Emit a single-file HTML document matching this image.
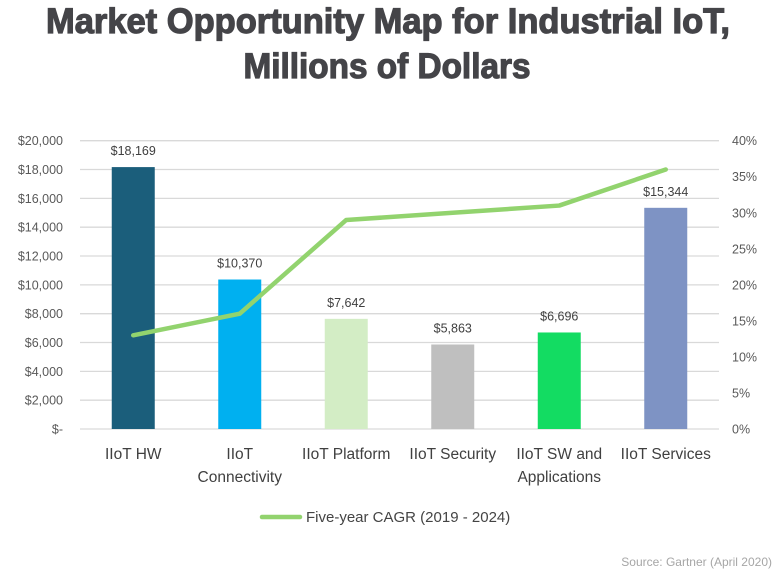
<!DOCTYPE html>
<html><head><meta charset="utf-8"><style>
html,body{margin:0;padding:0;background:#fff;}
svg{display:block;font-family:"Liberation Sans",sans-serif;}
</style></head><body>
<svg id="chart" width="777" height="573" viewBox="0 0 777 573">
<text x="388" y="33" text-anchor="middle" font-size="35" font-weight="900" fill="#444448" stroke="#444448" stroke-width="1.2" textLength="684" lengthAdjust="spacingAndGlyphs">Market Opportunity Map for Industrial IoT,</text>
<text x="387" y="78" text-anchor="middle" font-size="35" font-weight="900" fill="#444448" stroke="#444448" stroke-width="1.2" textLength="287" lengthAdjust="spacingAndGlyphs">Millions of Dollars</text>
<g id="grid"></g><g id="bars"></g><g id="line"></g><g id="labels"></g>
<line x1="262" y1="517" x2="300" y2="517" stroke="#92d36e" stroke-width="4.5" stroke-linecap="round"/>
<text x="306" y="522" font-size="15" fill="#444">Five-year CAGR (2019 - 2024)</text>
<text x="772" y="566" text-anchor="end" font-size="12" fill="#a6a6a6">Source: Gartner (April 2020)</text>
</svg>
<script>
const categories=[["IIoT HW"],["IIoT","Connectivity"],["IIoT Platform"],["IIoT Security"],["IIoT SW and","Applications"],["IIoT Services"]];
const revenue=[18169,10370,7642,5863,6696,15344];
const revenueLabels=["$18,169","$10,370","$7,642","$5,863","$6,696","$15,344"];
const cagr=[13,16,29,30,31,36];
const leftTicks=[0,2000,4000,6000,8000,10000,12000,14000,16000,18000,20000];
const leftTickLabels=["$-","$2,000","$4,000","$6,000","$8,000","$10,000","$12,000","$14,000","$16,000","$18,000","$20,000"];
const rightTicks=[0,5,10,15,20,25,30,35,40];
const colors=["#1b5e7b","#00b0f0","#d3edc5","#bfbfbf","#13dc62","#7e93c4"];
const NS="http://www.w3.org/2000/svg";
const X0=80,X1=719,Y0=429,Y1=140.7;
const band=(X1-X0)/categories.length;
const xc=i=>X0+band*(i+0.5);
const yL=v=>Y0-(v/20000)*(Y0-Y1);
const yR=v=>Y0-(v/40)*(Y0-Y1);
function mk(tag,attrs,parent,text){const e=document.createElementNS(NS,tag);for(const k in attrs)e.setAttribute(k,attrs[k]);if(text!==undefined)e.textContent=text;parent.appendChild(e);return e;}
const grid=document.getElementById('grid'),bars=document.getElementById('bars'),line=document.getElementById('line'),labels=document.getElementById('labels');
leftTicks.forEach((t,i)=>{
  const g=mk('line',{x1:X0,x2:X1,y1:yL(t),y2:yL(t),stroke:'#d9d9d9','stroke-width':1.3},grid);
  
  
  const l=mk('text',{x:63,y:yL(t)+4.5,'text-anchor':'end','font-size':12.5,fill:'#595959'},labels,leftTickLabels[i]);
  
  
});
rightTicks.forEach(t=>{
  const l=mk('text',{x:732,y:yR(t)+4.5,'font-size':12.5,fill:'#595959'},labels,t+'%');
  
  
});
const bw=43;
revenue.forEach((v,i)=>{
  const r=mk('rect',{x:xc(i)-bw/2,y:yL(v),width:bw,height:Y0-yL(v),fill:colors[i]},bars);
  
  
  const t=mk('text',{x:xc(i),y:yL(v)-12,'text-anchor':'middle','font-size':12.5,fill:'#404040'},labels,revenueLabels[i]);
  
  
  categories[i].forEach((s,j)=>{
    const c=mk('text',{x:xc(i),y:459+j*23,'text-anchor':'middle','font-size':15.5,fill:'#404040'},labels,s);
    
    
  });
});
const pts=cagr.map((v,i)=>xc(i)+','+yR(v)).join(' ');
const pl=mk('polyline',{points:pts,fill:'none',stroke:'#92d36e','stroke-width':4.5,'stroke-linecap':'round','stroke-linejoin':'round'},line);


</script>
</body></html>
